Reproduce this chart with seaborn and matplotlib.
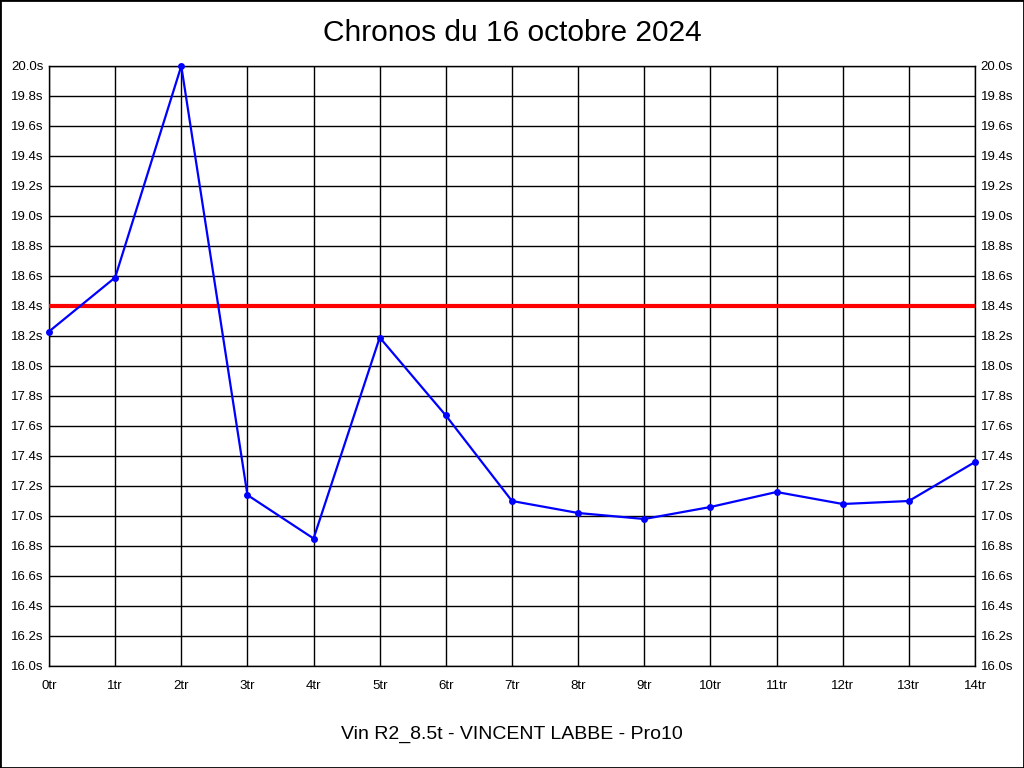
import numpy as np
import pandas as pd
import matplotlib
matplotlib.use("Agg")
import matplotlib.pyplot as plt
import seaborn as sns
from matplotlib.patches import Rectangle

laps = list(range(15))
lap_labels = [f"{i}tr" for i in laps]
chronos = [18.23, 18.59, 20.00, 17.14, 16.85, 18.19, 17.67, 17.10,
           17.02, 16.98, 17.06, 17.16, 17.08, 17.10, 17.36]
target = 18.4
y_ticks = [round(16.0 + 0.2 * i, 1) for i in range(21)]

sns.set_style("white")
plt.rcParams['font.family'] = ['Liberation Sans', 'DejaVu Sans']
plt.rcParams['text.color'] = 'black'

df = pd.DataFrame({"tour": laps, "chrono": chronos})

fig = plt.figure(figsize=(10.24, 7.68), dpi=100)
ax = fig.add_axes([49 / 1024, 1 - 666 / 768, 926 / 1024, 600 / 768])

ax.axhline(target, color="#ff0000", linewidth=3, zorder=3)
sns.lineplot(data=df, x="tour", y="chrono", ax=ax, color="#0000ff",
             linewidth=1.6, marker="o", markersize=5, markeredgewidth=0,
             zorder=4, clip_on=False)

ax.set_xlim(0, 14)
ax.set_ylim(16.0, 20.0)
ax.set_xticks(laps)
ax.set_xticklabels(lap_labels)
ax.set_yticks(y_ticks)
ax.set_yticklabels([f"{v:.1f}s" for v in y_ticks])
ax.grid(True, color="black", linewidth=1)
ax.tick_params(axis="both", length=0, labelsize=9.5, colors="black")
ax.tick_params(axis="y", labelright=True, right=False, pad=4)
ax.tick_params(axis="x", pad=10)
ax.set_xlabel("")
ax.set_ylabel("")
for s in ax.spines.values():
    s.set_color("black")
    s.set_linewidth(1)

fig.text(0.5, 1 - 33 / 768, "Chronos du 16 octobre 2024", ha="center", va="center", fontsize=21.5)
fig.text(0.5, 1 - 734 / 768, "Vin R2_8.5t - VINCENT LABBE - Pro10", ha="center", va="center", fontsize=14)
fig.patches.append(Rectangle((0, 0), 1, 1, transform=fig.transFigure, fill=False,
                             edgecolor="black", linewidth=2))

fig.savefig("out.png", dpi=100)
